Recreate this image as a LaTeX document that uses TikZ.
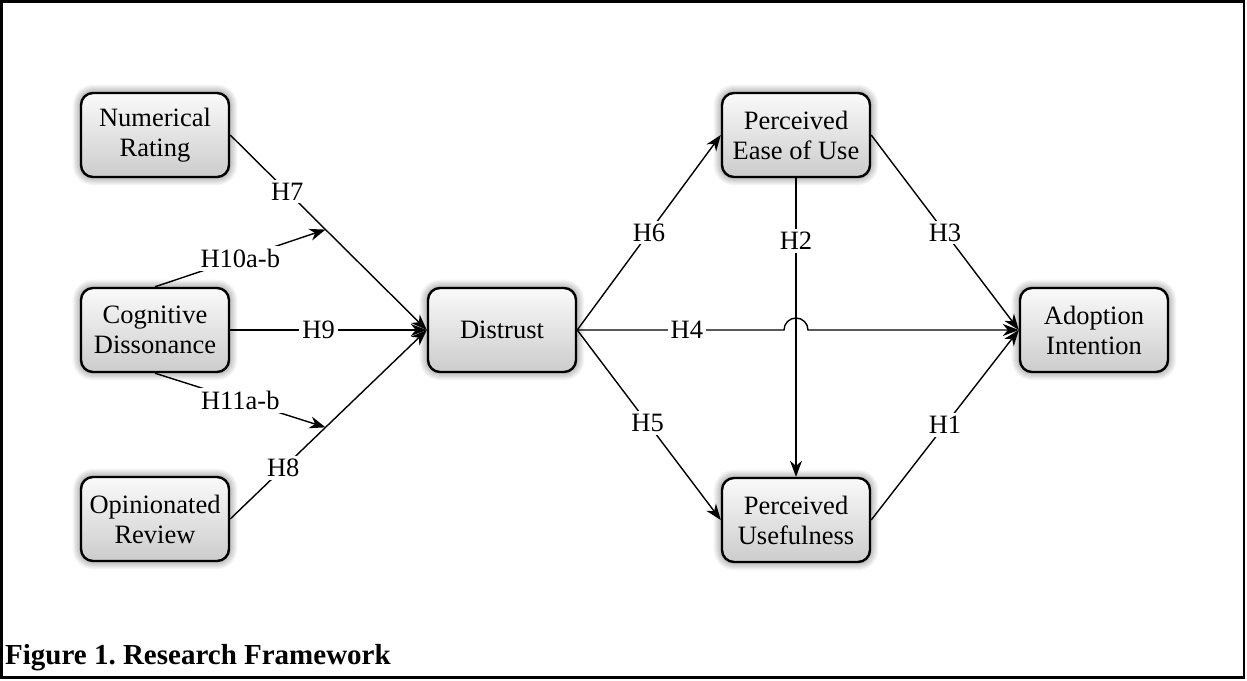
\documentclass[tikz,border=0pt]{standalone}
\usepackage{fontspec}
\setmainfont{Liberation Serif}
\usetikzlibrary{arrows.meta,shadows.blur,calc}
\frenchspacing
\begin{document}
\begin{tikzpicture}[x=1pt,y=-1pt,
  box/.style={draw=black, line width=2.4pt, rounded corners=12pt, minimum width=148pt, minimum height=84pt, inner sep=0pt, align=center, font=\fontsize{26.5}{30}\selectfont, top color=black!2, bottom color=black!20,
    blur shadow={shadow xshift=0pt, shadow yshift=0pt, shadow blur radius=9pt, shadow blur steps=12, shadow opacity=60}},
  conn/.style={line width=1.4pt, -{Stealth[length=16pt,width=12pt,inset=5pt]}},
  lbl/.style={fill=white, inner sep=3pt, font=\fontsize{26.5}{30}\selectfont}]
\useasboundingbox (0,0) rectangle (1247,680);
\draw[line width=2.5pt] (1.5,1.5) rectangle (1244,677.5);

\node[box] (nr) at (155,135) {Numerical\\Rating};
\node[box] (cd) at (155,330) {Cognitive\\Dissonance};
\node[box] (or) at (155,519) {Opinionated\\Review};
\node[box] (dt) at (502,330) {Distrust};
\node[box] (pe) at (796,135) {Perceived\\Ease of Use};
\node[box] (pu) at (796,520) {Perceived\\Usefulness};
\node[box] (ai) at (1094,330) {Adoption\\Intention};

\coordinate (m7) at ($(nr.east)!0.485!(dt.west)$);
\coordinate (m8) at ($(or.east)!0.485!(dt.west)$);
\coordinate (cx) at (pe.south |- dt.east);

\draw[conn] (nr.east) -- node[lbl,pos=0.29]{H7} (dt.west);
\draw[conn] (or.east) -- node[lbl,pos=0.27]{H8} (dt.west);
\draw[conn] (cd.east) -- node[lbl,pos=0.45]{H9} (dt.west);
\draw[conn] (cd.north) -- node[lbl]{H10a-b} (m7);
\draw[conn] (cd.south) -- node[lbl]{H11a-b} (m8);
\draw[conn] (dt.east) -- node[lbl]{H6} (pe.west);
\draw[conn] (dt.east) -- node[lbl,pos=0.49]{H5} (pu.west);
\draw[conn] (pe.south) -- node[lbl,pos=0.21]{H2} (pu.north);
\draw[conn] (pe.east) -- node[lbl]{H3} (ai.west);
\draw[conn] (pu.east) -- node[lbl]{H1} (ai.west);
\draw[conn] (dt.east) -- node[lbl,pos=0.53]{H4} ([xshift=-12pt]cx) arc[start angle=180,end angle=0,radius=12pt] -- (ai.west);

\node[anchor=base west, inner sep=0pt, font=\bfseries\fontsize{29}{34}\selectfont] (cap) at (5,664) {Figure 1. Research Framework};
\end{tikzpicture}
\end{document}
